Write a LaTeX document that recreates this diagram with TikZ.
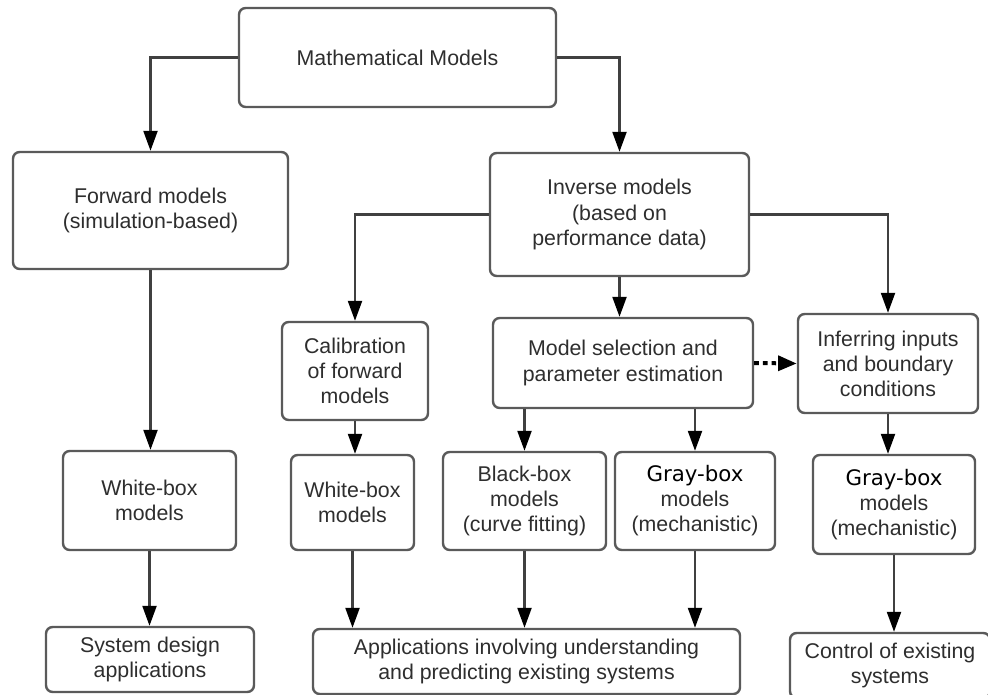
\documentclass[tikz,border=0pt]{standalone}
\usepackage{fontspec}
\setmainfont{Liberation Sans}
\newfontfamily\grayfont{DejaVu Sans}
\usetikzlibrary{arrows.meta}
\definecolor{boxline}{HTML}{5A5A5A}
\definecolor{boxtext}{HTML}{2E2E2E}
\def\px{0.75pt}
\newcommand{\graybox}{{\grayfont\color{black}Gray-box}}
\begin{document}
\begin{tikzpicture}[x=0.75pt,y=-0.75pt,
    box/.style={draw=boxline,line width=1.8pt,rounded corners=5pt,align=center,
      text=boxtext,font=\fontsize{16}{18.8}\selectfont,inner sep=0pt},
    link/.style={draw=black!75,line width=1.7pt,-{Triangle[length=15pt,width=10.5pt,color=black]}},
    dotlink/.style={draw=black,line width=3pt,dash pattern=on 3.5pt off 3pt,
      -{Triangle[length=14pt,width=11pt]}}]
  \useasboundingbox[fill=white] (0,0) rectangle (988,695);
  % Top levels
  \node[box,minimum width=317*\px,minimum height=99*\px] (math) at (397.5,57.5) {Mathematical Models};
  \node[box,minimum width=275*\px,minimum height=117*\px] (fwd) at (150.5,210.5) {Forward models\\(simulation-based)};
  \node[box,minimum width=259*\px,minimum height=123*\px] (inv) at (619.5,214.5) {Inverse models\\(based on\\performance data)};
  % Second level
  \node[box,minimum width=146*\px,minimum height=98*\px] (calib) at (355,371) {Calibration\\of forward\\models};
  \node[box,minimum width=260*\px,minimum height=90*\px] (msel) at (623,363) {Model selection and\\parameter estimation};
  \node[box,minimum width=180*\px,minimum height=99*\px] (infer) at (888,363.5) {Inferring inputs\\and boundary\\conditions};
  % Model types
  \node[box,minimum width=173*\px,minimum height=99*\px] (wbL) at (149.5,500.5) {White-box\\models};
  \node[box,minimum width=123*\px,minimum height=95*\px] (wbM) at (352.5,502.5) {White-box\\models};
  \node[box,minimum width=163*\px,minimum height=98*\px] (bbox) at (524.5,501) {Black-box\\models\\(curve fitting)};
  \node[box,minimum width=160*\px,minimum height=98*\px] (gbM) at (695,501) {\graybox\\models\\(mechanistic)};
  \node[box,minimum width=162*\px,minimum height=99*\px] (gbR) at (894,504.5) {\graybox\\models\\(mechanistic)};
  % Applications
  \node[box,minimum width=208*\px,minimum height=65*\px] (sysd) at (150,659.5) {System design\\applications};
  \node[box,minimum width=427*\px,minimum height=65*\px] (apps) at (526.5,661.5) {Applications involving understanding\\and predicting existing systems};
  \node[box,minimum width=200*\px,minimum height=65*\px] (ctrl) at (890,665.5) {Control of existing\\systems};
  % Connectors
  \draw[link] (math.west) -| (fwd.north);
  \draw[link] (math.east) -| (inv.north);
  \draw[link] (inv.west) -| (calib.north);
  \draw[link] (inv.east) -| (infer.north);
  \draw[link] (msel.south -| bbox.north) -- (bbox.north);
  \draw[link] (msel.south -| gbM.north) -- (gbM.north);
  \draw[dotlink] (msel.east) -- (infer.west);
  \foreach \a/\b in {inv/msel,fwd/wbL,calib/wbM,infer/gbR,wbL/sysd,wbM/apps,bbox/apps,gbM/apps,gbR/ctrl}
    \draw[link] (\a.south) -- (\a.south |- \b.north);
\end{tikzpicture}
\end{document}
